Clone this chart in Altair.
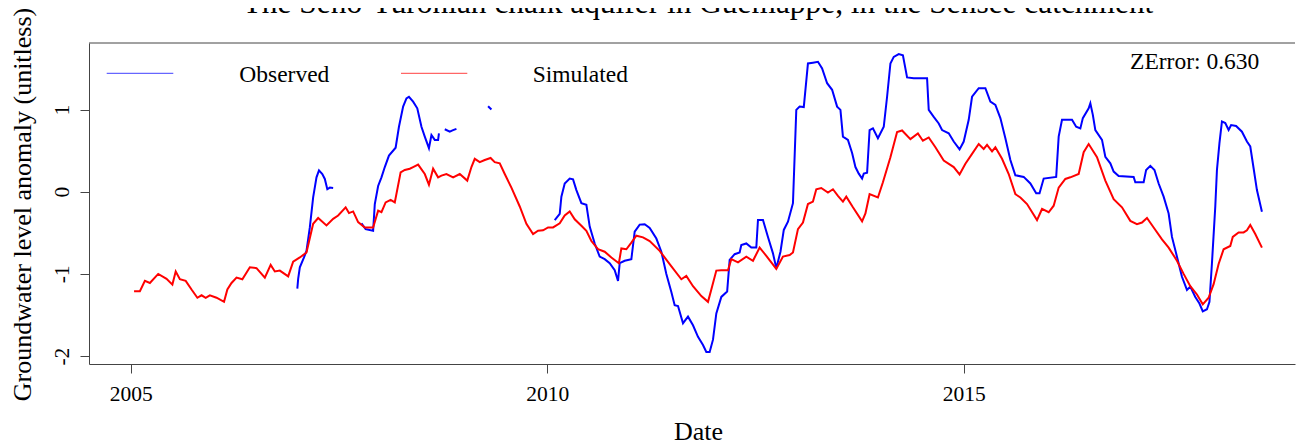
import altair as alt
import pandas as pd

# ---------------- data ----------------
sim_year = [2005.04, 2005.11, 2005.17, 2005.23, 2005.33, 2005.43, 2005.50, 2005.54, 2005.59, 2005.66,
            2005.73, 2005.80, 2005.85, 2005.90, 2005.95, 2006.03, 2006.12, 2006.16, 2006.21, 2006.27,
            2006.34, 2006.43, 2006.51, 2006.61, 2006.68, 2006.73, 2006.79, 2006.89, 2006.95, 2007.03,
            2007.11, 2007.19, 2007.25, 2007.35, 2007.43, 2007.49, 2007.58, 2007.62, 2007.67, 2007.73,
            2007.81, 2007.91, 2007.97, 2008.01, 2008.06, 2008.12, 2008.17, 2008.24, 2008.29, 2008.35,
            2008.39, 2008.45, 2008.53, 2008.58, 2008.63, 2008.69, 2008.73, 2008.79, 2008.87, 2008.95,
            2009.04, 2009.09, 2009.13, 2009.19, 2009.25, 2009.32, 2009.37, 2009.43, 2009.49, 2009.57,
            2009.67, 2009.75, 2009.83, 2009.89, 2009.95, 2010.01, 2010.07, 2010.15, 2010.21, 2010.27,
            2010.33, 2010.41, 2010.47, 2010.53, 2010.61, 2010.69, 2010.77, 2010.86, 2010.89, 2010.95,
            2011.01, 2011.07, 2011.15, 2011.23, 2011.35, 2011.47, 2011.61, 2011.67, 2011.75, 2011.85,
            2011.93, 2011.97, 2012.03, 2012.09, 2012.17, 2012.21, 2012.29, 2012.39, 2012.47, 2012.55,
            2012.63, 2012.75, 2012.83, 2012.91, 2012.95, 2013.01, 2013.07, 2013.13, 2013.19, 2013.23,
            2013.29, 2013.37, 2013.43, 2013.49, 2013.55, 2013.59, 2013.67, 2013.78, 2013.82, 2013.87,
            2013.97, 2014.03, 2014.12, 2014.20, 2014.26, 2014.36, 2014.45, 2014.51, 2014.58, 2014.66,
            2014.76, 2014.88, 2014.95, 2015.02, 2015.10, 2015.18, 2015.24, 2015.28, 2015.34, 2015.38,
            2015.46, 2015.54, 2015.62, 2015.68, 2015.76, 2015.88, 2015.94, 2016.02, 2016.08, 2016.14,
            2016.22, 2016.28, 2016.38, 2016.44, 2016.50, 2016.60, 2016.70, 2016.80, 2016.90, 2017.00,
            2017.08, 2017.14, 2017.20, 2017.28, 2017.38, 2017.46, 2017.56, 2017.64, 2017.72, 2017.80,
            2017.87, 2017.94, 2018.00, 2018.06, 2018.12, 2018.20, 2018.23, 2018.30, 2018.36, 2018.40,
            2018.44, 2018.50, 2018.58]
sim_val = [-1.21, -1.21, -1.085, -1.11, -1.00, -1.06, -1.13, -0.97, -1.065, -1.085,
           -1.19, -1.29, -1.26, -1.29, -1.26, -1.29, -1.34, -1.19, -1.11, -1.045,
           -1.065, -0.92, -0.93, -1.045, -0.89, -0.97, -0.96, -1.03, -0.85, -0.80,
           -0.74, -0.39, -0.32, -0.41, -0.33, -0.29, -0.19, -0.26, -0.24, -0.37,
           -0.435, -0.435, -0.23, -0.25, -0.13, -0.10, -0.13, 0.235, 0.265, 0.28,
           0.30, 0.33, 0.215, 0.085, 0.28, 0.175, 0.195, 0.215, 0.175, 0.215,
           0.135, 0.30, 0.40, 0.36, 0.385, 0.41, 0.36, 0.345, 0.215, 0.05,
           -0.18, -0.39, -0.515, -0.475, -0.47, -0.435, -0.435, -0.385, -0.29, -0.24,
           -0.335, -0.415, -0.475, -0.60, -0.70, -0.73, -0.80, -0.87, -0.69, -0.70,
           -0.62, -0.535, -0.555, -0.60, -0.72, -0.88, -1.065, -1.025, -1.15, -1.27,
           -1.34, -1.19, -0.96, -0.955, -0.955, -0.82, -0.86, -0.79, -0.84, -0.68,
           -0.78, -0.94, -0.79, -0.77, -0.74, -0.455, -0.375, -0.15, -0.12, 0.03,
           0.045, -0.01, 0.03, -0.05, -0.12, -0.06, -0.19, -0.36, -0.265, -0.03,
           -0.07, 0.115, 0.42, 0.725, 0.745, 0.64, 0.71, 0.62, 0.66, 0.54,
           0.38, 0.30, 0.21, 0.34, 0.46, 0.58, 0.52, 0.57, 0.49, 0.54,
           0.40, 0.215, -0.03, -0.07, -0.15, -0.345, -0.21, -0.25, -0.17, 0.05,
           0.155, 0.175, 0.215, 0.48, 0.58, 0.42, 0.135, -0.09, -0.19, -0.355,
           -0.395, -0.375, -0.32, -0.435, -0.58, -0.68, -0.84, -1.00, -1.15, -1.25,
           -1.37, -1.29, -1.125, -0.88, -0.70, -0.66, -0.55, -0.495, -0.495, -0.47,
           -0.405, -0.515, -0.68]

# observed series: separate pieces (gaps in the record)
obs1_year = [2007.00, 2007.01, 2007.03, 2007.08, 2007.11, 2007.15, 2007.19, 2007.23, 2007.26, 2007.30,
             2007.33, 2007.36, 2007.39, 2007.43]
obs1_val = [-1.18, -1.06, -0.92, -0.80, -0.72, -0.435, -0.07, 0.175, 0.26, 0.215,
            0.155, 0.03, 0.05, 0.045]
obs2_year = [2007.77, 2007.82, 2007.91, 2007.93, 2007.97, 2008.01, 2008.05, 2008.10, 2008.18, 2008.22,
             2008.27, 2008.31, 2008.34, 2008.39, 2008.44, 2008.49, 2008.53, 2008.58, 2008.61, 2008.65,
             2008.69, 2008.70]
obs2_val = [-0.385, -0.455, -0.475, -0.15, 0.07, 0.175, 0.30, 0.44, 0.535, 0.79,
            1.035, 1.135, 1.155, 1.095, 1.015, 0.79, 0.67, 0.53, 0.69, 0.63,
            0.63, 0.71]
obs3_year = [2008.77, 2008.83, 2008.87, 2008.91]
obs3_val = [0.76, 0.73, 0.75, 0.765]
obs4_year = [2009.29, 2009.33]
obs4_val = [1.04, 1.00]
obs5_year = [2010.09, 2010.15, 2010.17, 2010.21, 2010.27, 2010.31, 2010.35, 2010.41, 2010.47, 2010.51,
             2010.57, 2010.63, 2010.69, 2010.75, 2010.81, 2010.85, 2010.87, 2010.93, 2011.01, 2011.05,
             2011.11, 2011.17, 2011.23, 2011.31, 2011.37, 2011.43, 2011.49, 2011.53, 2011.57, 2011.63,
             2011.69, 2011.75, 2011.81, 2011.87, 2011.91, 2011.95, 2011.99, 2012.03, 2012.09, 2012.16,
             2012.19, 2012.25, 2012.31, 2012.33, 2012.39, 2012.45, 2012.51, 2012.53, 2012.59, 2012.65,
             2012.71, 2012.75, 2012.80, 2012.84, 2012.89, 2012.95, 2012.99, 2013.03, 2013.08, 2013.13,
             2013.19, 2013.25, 2013.30, 2013.36, 2013.42, 2013.48, 2013.52, 2013.55, 2013.61, 2013.66,
             2013.70, 2013.74, 2013.78, 2013.80, 2013.84, 2013.87, 2013.91, 2013.97, 2014.04, 2014.08,
             2014.12, 2014.16, 2014.22, 2014.27, 2014.32, 2014.40, 2014.56, 2014.58, 2014.64, 2014.70,
             2014.74, 2014.82, 2014.88, 2014.95, 2015.00, 2015.06, 2015.10, 2015.18, 2015.26, 2015.32,
             2015.38, 2015.44, 2015.50, 2015.56, 2015.62, 2015.72, 2015.80, 2015.87, 2015.91, 2015.96,
             2016.11, 2016.14, 2016.18, 2016.30, 2016.35, 2016.40, 2016.43, 2016.50, 2016.52, 2016.55,
             2016.58, 2016.66, 2016.70, 2016.76, 2016.80, 2016.86, 2017.04, 2017.06, 2017.16, 2017.19,
             2017.24, 2017.29, 2017.34, 2017.40, 2017.46, 2017.50, 2017.56, 2017.62, 2017.68, 2017.72,
             2017.78, 2017.83, 2017.87, 2017.92, 2017.95, 2017.98, 2018.02, 2018.04, 2018.07, 2018.10,
             2018.14, 2018.18, 2018.21, 2018.27, 2018.34, 2018.40, 2018.44, 2018.48, 2018.52, 2018.58]
obs5_val = [-0.345, -0.27, -0.06, 0.10, 0.16, 0.15, 0.02, -0.14, -0.16, -0.425,
            -0.63, -0.79, -0.82, -0.87, -0.955, -1.085, -0.87, -0.84, -0.82, -0.485,
            -0.40, -0.395, -0.44, -0.57, -0.73, -1.00, -1.22, -1.38, -1.39, -1.60,
            -1.52, -1.625, -1.765, -1.865, -1.95, -1.95, -1.80, -1.48, -1.28, -1.215,
            -0.83, -0.76, -0.74, -0.65, -0.63, -0.68, -0.68, -0.345, -0.345, -0.55,
            -0.75, -0.93, -0.73, -0.465, -0.365, -0.14, 0.995, 1.035, 1.03, 1.56,
            1.57, 1.58, 1.50, 1.32, 1.24, 1.035, 0.995, 0.67, 0.63, 0.47,
            0.30, 0.22, 0.16, 0.22, 0.23, 0.75, 0.77, 0.65, 0.79, 1.155,
            1.56, 1.64, 1.675, 1.66, 1.39, 1.38, 1.38, 0.995, 0.91, 0.83,
            0.75, 0.71, 0.61, 0.515, 0.61, 0.875, 1.155, 1.26, 1.26, 1.095,
            1.055, 0.895, 0.65, 0.385, 0.20, 0.18, 0.10, -0.02, -0.02, 0.16,
            0.18, 0.67, 0.875, 0.875, 0.79, 0.77, 0.895, 1.015, 1.075, 0.935,
            0.75, 0.63, 0.425, 0.345, 0.245, 0.19, 0.18, 0.115, 0.115, 0.265,
            0.315, 0.265, 0.10, -0.06, -0.265, -0.55, -0.79, -1.035, -1.195, -1.155,
            -1.28, -1.36, -1.455, -1.43, -1.34, -0.87, -0.18, 0.265, 0.59, 0.855,
            0.835, 0.75, 0.81, 0.80, 0.73, 0.61, 0.55, 0.285, 0.02, -0.245]

title_text = "The Seno-Turonian chalk aquifer in Guemappe, in the Sensee catchment"
x_title = "Date"
y_title = "Groundwater level anomaly (unitless)"
x_ticks = [2005, 2010, 2015]
y_ticks = [-2, -1, 0, 1]
legend_labels = ["Observed", "Simulated"]
zerror_label = "ZError: 0.630"

# ---------------- layout / style ----------------
W, H = 1206, 321
X_DOMAIN = [2004.499, 2018.977]
Y_DOMAIN = [-2.096, 1.809]
FONT = "Liberation Serif"
FRAME = "#444444"

sim = pd.DataFrame({"year": sim_year, "value": sim_val})
obs_parts = []
for i, (yy, vv) in enumerate([(obs1_year, obs1_val), (obs2_year, obs2_val), (obs3_year, obs3_val),
                              (obs4_year, obs4_val), (obs5_year, obs5_val)]):
    obs_parts.append(pd.DataFrame({"year": yy, "value": vv, "seg": i}))
obs = pd.concat(obs_parts, ignore_index=True)

x_enc = alt.X(
    "year:Q",
    scale=alt.Scale(domain=X_DOMAIN, nice=False, zero=False),
    axis=alt.Axis(
        values=x_ticks, format="d", title=x_title, grid=False,
        domainColor=FRAME, tickColor=FRAME, tickSize=9,
        labelFont=FONT, labelFontSize=21.5, labelColor="black",
        labelBaseline="alphabetic", labelPadding=27, labelFlush=False, labelOverlap=False,
        titleFont=FONT, titleFontSize=26, titleFontWeight="normal", titleColor="black",
        titleBaseline="alphabetic", titleX=609, titleY=75, titleAlign="center",
    ),
)
y_enc = alt.Y(
    "value:Q",
    scale=alt.Scale(domain=Y_DOMAIN, nice=False, zero=False),
    axis=alt.Axis(
        values=y_ticks, title=y_title, grid=False,
        labelExpr="'' + datum.value",
        domainColor=FRAME, tickColor=FRAME, tickSize=9,
        labelFont=FONT, labelFontSize=21.5, labelColor="black", labelAngle=270,
        labelAlign="center", labelBaseline="alphabetic", labelPadding=12,
        labelFlush=False, labelOverlap=False,
        titleFont=FONT, titleFontSize=26, titleFontWeight="normal", titleColor="black",
        titleAngle=270, titleAlign="center", titleBaseline="alphabetic",
        titleX=-59, titleY=161,
    ),
)

obs_line = alt.Chart(obs).mark_line(color="#0000ff", strokeWidth=2).encode(
    x=x_enc, y=y_enc, detail="seg:N", order="year:Q")
sim_line = alt.Chart(sim).mark_line(color="#ff0000", strokeWidth=2).encode(
    x="year:Q", y="value:Q", order="year:Q")

one = pd.DataFrame({"k": [0]})
top_rule = alt.Chart(one).mark_rule(color=FRAME, strokeWidth=1).encode(
    x=alt.value(0), x2=alt.value(W), y=alt.value(0))

leg_obs_line = alt.Chart(one).mark_rule(color="#0000ff", strokeWidth=1.2, opacity=0.6).encode(
    x=alt.value(17.7), x2=alt.value(84.3), y=alt.value(30.3))
leg_sim_line = alt.Chart(one).mark_rule(color="#ff0000", strokeWidth=1.2, opacity=0.6).encode(
    x=alt.value(312), x2=alt.value(378.3), y=alt.value(30.3))
leg_obs_txt = alt.Chart(one).mark_text(
    text=legend_labels[0], font=FONT, fontSize=23.5, align="left", baseline="alphabetic", color="black"
).encode(x=alt.value(150.3), y=alt.value(38.7))
leg_sim_txt = alt.Chart(one).mark_text(
    text=legend_labels[1], font=FONT, fontSize=23.5, align="left", baseline="alphabetic", color="black"
).encode(x=alt.value(443.7), y=alt.value(38.7))
zerr_txt = alt.Chart(one).mark_text(
    text=zerror_label, font=FONT, fontSize=23.5, align="right", baseline="alphabetic", color="black"
).encode(x=alt.value(1170.3), y=alt.value(26.3))
title_txt = alt.Chart(one).mark_text(
    text=title_text, font=FONT, fontSize=31.4, align="center", baseline="alphabetic", color="black"
).encode(x=alt.value(609), y=alt.value(-30.3))

chart = alt.layer(
    obs_line, sim_line, top_rule, leg_obs_line, leg_sim_line,
    leg_obs_txt, leg_sim_txt, zerr_txt, title_txt
).properties(
    width=W, height=H,
    autosize=alt.AutoSizeParams(type="none"),
    padding={"left": 81, "top": 35, "right": 1, "bottom": 80},
).configure_view(stroke=None)

chart.save("out.html", embed_options={"renderer": "svg", "actions": False})
